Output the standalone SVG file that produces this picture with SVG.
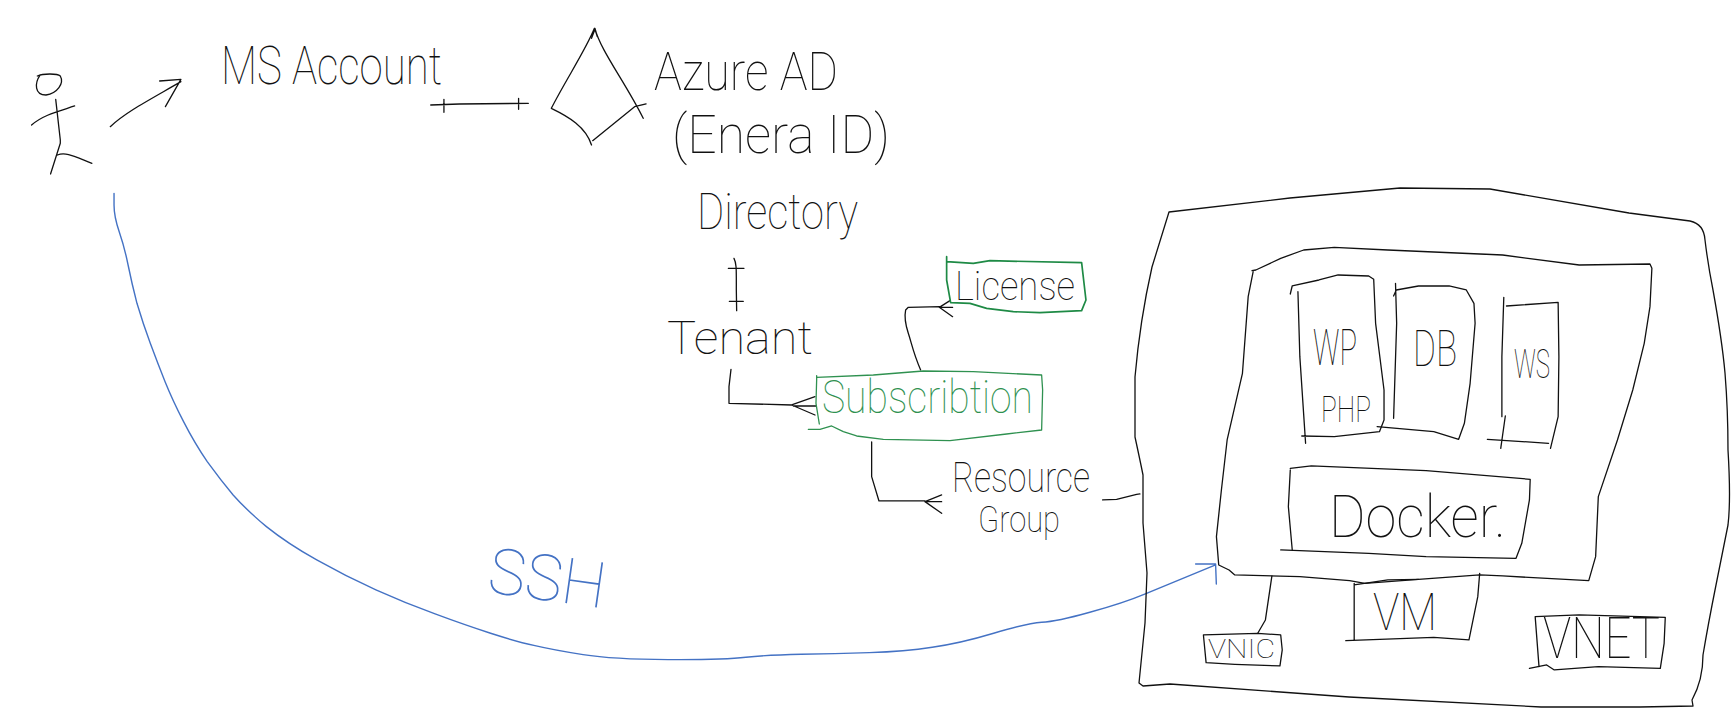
<svg xmlns="http://www.w3.org/2000/svg" width="1734" height="718" viewBox="0 0 1734 718">
<style>
path{fill:none;stroke:#111;stroke-width:1.3;stroke-linejoin:round;stroke-linecap:round;vector-effect:non-scaling-stroke}
path.g{stroke:#2f9150}
path.d{stroke:#1e8a45;stroke-width:1.7}
path.b{stroke:#4472c4;stroke-width:1.4}
text{font-family:"Roboto","Liberation Sans",sans-serif;font-weight:100;fill:#111}
text.gt{fill:#2f9150}
text.bt{fill:#4472c4}
</style>
<rect width="1734" height="718" fill="#fff"/>
<g id="connectors">
<g transform="scale(0.5743,0.3333)">
<path d="M192,380C220,335 260,300 315,245M278,243L315,238L288,320"/>
<path d="M750,315L800,312L920,310M773,298V337M903,295V328"/>
</g>
<g transform="translate(640,240) scale(0.3333)">
<path d="M282,55C290,70 289,90 289,150L290,212M265,85H312M268,184H310"/>
<path d="M273,388L267,440V490L455,495M525,470L455,495L525,525M460,498H528"/>
<path d="M842,390C820,340 815,310 805,280C795,250 793,230 797,210L805,202L900,200M930,182L898,202L938,230M898,202H938"/>
<path d="M695,606V710L717,783H855M905,765L855,785L905,820M855,785H905"/>
<path d="M1388,780L1430,778L1490,763L1500,762"/>
</g>
<g transform="translate(1120,190) scale(0.38265,0.3333)">
<path d="M397,1158L380,1290L360,1330"/>
</g>
<g transform="translate(80,180) scale(0.7398,0.3333)">
<path class="b" d="M46,40L46,75Q46,110 53,155Q60,200 65,255Q70,310 77,370Q85,430 95,490Q105,550 115,605Q125,660 140,725Q155,790 172,845Q190,900 207,945Q225,990 252,1040Q280,1090 320,1140Q360,1190 400,1230Q440,1270 480,1302Q520,1335 555,1360Q590,1385 615,1397Q640,1410 680,1424Q720,1438 795,1439Q870,1440 900,1432Q930,1425 975,1423Q1020,1422 1067,1418Q1115,1415 1152,1402Q1190,1390 1235,1360Q1280,1330 1300,1327Q1320,1325 1365,1297Q1410,1270 1440,1242Q1470,1215 1535,1155M1508,1152H1535L1536,1212"/>
</g>
<text class="bt" transform="translate(486,592) rotate(8)" font-size="64" textLength="118" lengthAdjust="spacingAndGlyphs">SSH</text>
</g>
<g id="user" transform="scale(0.5743,0.3333)">
<path d="M70,225C60,250 60,285 80,285C100,280 112,250 105,228C100,220 75,220 65,228"/>
<path d="M97,298L105,420L105,430L88,522M55,375C75,345 100,335 130,318M100,465C115,455 130,470 160,490"/>
</g>
<g id="ms-account"><text x="221" y="84" font-size="54" textLength="221" lengthAdjust="spacingAndGlyphs">MS Account</text></g>
<g id="azure-ad">
<g transform="scale(0.5743,0.3333)"><path d="M1035,85C1020,150 985,240 960,325C990,350 1020,380 1030,435M1032,422L1105,320L1125,312M1036,85C1045,150 1090,250 1120,355M1030,115L1036,88L1040,110"/></g>
<text x="654" y="90" font-size="54" textLength="184" lengthAdjust="spacingAndGlyphs">Azure AD</text>
<text x="672" y="153" font-size="54" textLength="218" lengthAdjust="spacingAndGlyphs">(Enera ID)</text>
</g>
<g id="directory"><text x="697" y="229" font-size="50" textLength="161" lengthAdjust="spacingAndGlyphs">Directory</text></g>
<g id="tenant"><text x="667" y="354" font-size="46" textLength="146" lengthAdjust="spacingAndGlyphs">Tenant</text></g>
<g id="license">
<g transform="translate(640,240) scale(0.3333)"><path class="d" d="M920,50V65L1000,70L1050,62L1325,68L1338,180L1325,212L1200,218L1120,215L1040,205L990,190L932,188L920,120L920,65"/></g>
<text x="955" y="300" font-size="40" textLength="120" lengthAdjust="spacingAndGlyphs">License</text>
</g>
<g id="subscription">
<g transform="translate(640,240) scale(0.3333)"><path class="g" d="M530,407V420L528,490L538,552M530,412L700,405L850,393L1000,395L1205,405L1208,450L1205,570L1100,582L930,602L730,598L650,588L610,575L575,558L540,568L505,568"/></g>
<text class="gt" x="822" y="413" font-size="46" textLength="211" lengthAdjust="spacingAndGlyphs">Subscribtion</text>
</g>
<g id="resource-group">
<text x="952" y="492" font-size="42" textLength="138" lengthAdjust="spacingAndGlyphs">Resource</text>
<text x="978" y="532" font-size="36" textLength="82" lengthAdjust="spacingAndGlyphs">Group</text>
</g>
<g id="resource-box">
<path d="M1169,212L1290,198L1400,188L1490,189L1629,213L1690,221Q1704,224 1705,240Q1708,265 1713,290Q1722,340 1725,373Q1728,410 1728,450Q1731,500 1728,525Q1722,555 1716,585Q1708,625 1703,655Q1703,680 1692,700L1693,706L1640,707L1541,707L1349,697L1170,684L1143,686L1139,683L1145,623L1147,573L1143,523L1143,475Q1140,460 1135,437L1135,377Q1140,320 1152,267Z"/>
</g>
<g id="vm-inner" transform="translate(1120,190) scale(0.38265,0.3333)">
<path d="M345,242L355,240L420,205L480,180L560,172L700,180L1000,195L1200,225L1385,222L1390,235L1385,350L1370,460L1340,600L1300,750L1250,920L1243,1100L1225,1172L1000,1158L940,1155L780,1168L640,1180L600,1172L470,1160L300,1155L285,1140L258,1125L252,1040L265,900L280,750L320,550L335,320L348,245"/>
</g>
<g id="wp">
<g transform="translate(1120,190) scale(0.38265,0.3333)"><path d="M445,312L450,288L520,270L570,255L650,258L663,268L668,400L690,600L690,690L678,725L560,740L475,738M465,305L470,500L485,760"/></g>
<text x="1313" y="365" font-size="50" textLength="44" lengthAdjust="spacingAndGlyphs">WP</text>
<text x="1321" y="422" font-size="36" textLength="50" lengthAdjust="spacingAndGlyphs">PHP</text>
</g>
<g id="db">
<g transform="translate(1120,190) scale(0.38265,0.3333)"><path d="M715,318L722,300L780,288L860,288L905,300L925,340L928,400L915,580L900,700L885,748L820,725L672,710M720,280L723,400L715,685"/></g>
<text x="1413" y="366" font-size="50" textLength="44" lengthAdjust="spacingAndGlyphs">DB</text>
</g>
<g id="ws">
<g transform="translate(1120,190) scale(0.38265,0.3333)"><path d="M1010,348L1145,337L1147,500L1145,680L1125,775M1003,322L998,500L998,680M1007,678L995,775M960,748L1120,760"/></g>
<text x="1514" y="378" font-size="40" textLength="36" lengthAdjust="spacingAndGlyphs">WS</text>
</g>
<g id="docker">
<g transform="translate(1120,190) scale(0.38265,0.3333)"><path d="M445,835L500,828L800,842L1072,868L1070,930L1050,1060L1035,1105L800,1100L650,1090L420,1080M445,840L440,950L450,1078"/></g>
<text x="1329" y="537" font-size="60" textLength="177" lengthAdjust="spacingAndGlyphs">Docker.</text>
</g>
<g id="vm">
<g transform="translate(1120,190) scale(0.38265,0.3333)"><path d="M612,1185L700,1170L780,1168M940,1150L935,1220L912,1350L820,1342L590,1352M612,1180V1350"/></g>
<text x="1373" y="630" font-size="52" textLength="64" lengthAdjust="spacingAndGlyphs">VM</text>
</g>
<g id="vnic">
<g transform="translate(1120,190) scale(0.38265,0.3333)"><path d="M218,1335L360,1330L420,1335L424,1380L418,1428L300,1423L225,1418L218,1335"/></g>
<text x="1208" y="658" font-size="25" textLength="67" lengthAdjust="spacingAndGlyphs">VNIC</text>
</g>
<g id="vnet">
<g transform="translate(1120,190) scale(0.38265,0.3333)"><path d="M1085,1280L1200,1275L1425,1282L1422,1360L1412,1435L1250,1430L1135,1440L1115,1425L1070,1435M1085,1280L1095,1430"/></g>
<text x="1543" y="658" font-size="58" textLength="117" lengthAdjust="spacingAndGlyphs">VNET</text>
</g>
</svg>
